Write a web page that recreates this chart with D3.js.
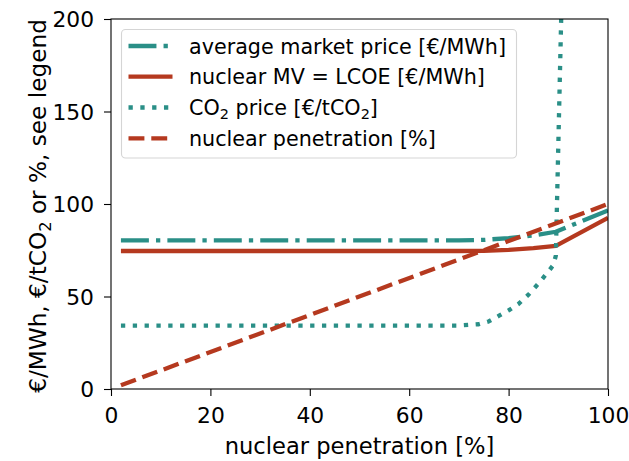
<!DOCTYPE html>
<html><head><meta charset="utf-8">
<script src="https://cdn.jsdelivr.net/npm/d3@7"></script>
<style>body{margin:0;background:#fff}svg text{font-family:"DejaVu Sans",sans-serif;fill:#000}</style>
</head><body>
<svg id="c" width="629" height="461"></svg>
<script>
// ---- data ----
const xTicks = [0, 20, 40, 60, 80, 100];
const yTicks = [0, 50, 100, 150, 200];

const marketX = [2, 10, 20, 30, 40, 50, 60, 70, 75, 80, 85, 89.5, 100];
const marketY = [80.3, 80.3, 80.3, 80.3, 80.3, 80.3, 80.3, 80.3, 80.6, 81.6, 83, 85, 96.5];

const nuclearX = [2, 10, 20, 30, 40, 50, 60, 70, 75, 80, 85, 89.5, 100];
const nuclearY = [74.6, 74.6, 74.6, 74.6, 74.6, 74.6, 74.6, 74.6, 74.7, 75.2, 76.1, 77.4, 92.5];

const co2X = [2, 10, 20, 30, 40, 50, 60, 70, 74, 76, 78, 80, 82, 84, 86, 88, 89, 89.5, 91];
const co2Y = [34.3, 34.3, 34.3, 34.3, 34.3, 34.3, 34.3, 34.3, 35, 36.5, 39.5, 42.5, 46, 51, 57, 63.5, 67, 72, 250];

const penX = [2, 100];
const penY = [2, 100];

const legendLabels = ["average market price [€/MWh]", "nuclear MV = LCOE [€/MWh]", "CO2 price [€/tCO2]", "nuclear penetration [%]"];

// ---- layout ----
const teal = "#2a8f87", red = "#b5391f";
const lw = 4.3;
const svg = d3.select("#c");
const L = 111, R = 608, T = 19, B = 389;
const x = d3.scaleLinear().domain([0, 100]).range([L, R]);
const y = d3.scaleLinear().domain([0, 200]).range([B, T]);

svg.append("clipPath").attr("id", "clip").append("rect")
  .attr("x", L).attr("y", T).attr("width", R - L).attr("height", B - T);

const styles = [
  {color: teal, dash: `${6.5*lw},${1.65*lw},${1*lw},${1.65*lw}`, xs: marketX, ys: marketY},
  {color: red, dash: null, xs: nuclearX, ys: nuclearY},
  {color: teal, dash: `${1*lw},${1.75*lw}`, xs: co2X, ys: co2Y},
  {color: red, dash: `${3.7*lw},${1.6*lw}`, xs: penX, ys: penY}
];

const line = d3.line().x(d => x(d[0])).y(d => y(d[1]));
const g = svg.append("g").attr("clip-path", "url(#clip)");
styles.forEach(s => {
  g.append("path").datum(s.xs.map((v, i) => [v, s.ys[i]]))
    .attr("d", line).attr("fill", "none").attr("stroke", s.color)
    .attr("stroke-width", lw).attr("stroke-dasharray", s.dash)
    .attr("stroke-linejoin", "round");
});

// axes
const tfs = 21.8, lfs = 22.6, gfs = 20.7;
const xa = svg.append("g").attr("transform", `translate(0,${B})`)
  .call(d3.axisBottom(x).tickValues(xTicks).tickSize(7).tickPadding(4).tickFormat(d3.format("d")));
const ya = svg.append("g").attr("transform", `translate(${L},0)`)
  .call(d3.axisLeft(y).tickValues(yTicks).tickSize(7).tickPadding(10).tickFormat(d3.format("d")));
[xa, ya].forEach(a => {
  a.select(".domain").remove();
  a.selectAll("line").attr("stroke", "#000").attr("stroke-width", 1.1);
  a.selectAll("text").style("font-size", tfs + "px").attr("fill", "#000");
});
xa.selectAll("text").attr("y", 34).attr("dy", 0);
ya.selectAll("text").attr("dy", "0.36em");

// frame
svg.append("rect").attr("x", L).attr("y", T).attr("width", R - L).attr("height", B - T)
  .attr("fill", "none").attr("stroke", "#000").attr("stroke-width", 1.1);

// axis labels
svg.append("text").attr("x", (L + R) / 2).attr("y", 454).attr("text-anchor", "middle")
  .style("font-size", lfs + "px").text("nuclear penetration [%]");
const ylfs = 23.2;
const yl = svg.append("text").attr("transform", `translate(46,206) rotate(-90)`)
  .attr("text-anchor", "middle").style("font-size", ylfs + "px");
yl.append("tspan").text("€/MWh, €/tCO");
yl.append("tspan").attr("dy", 4.5).style("font-size", (ylfs * 0.7) + "px").text("2");
yl.append("tspan").attr("dy", -4.5).text(" or %, see legend");

// legend
const lg = svg.append("g");
lg.append("rect").attr("x", 121.5).attr("y", 29.5).attr("width", 395).attr("height", 128.5)
  .attr("rx", 4).attr("fill", "#fff").attr("fill-opacity", 0.8).attr("stroke", "#d5d5d5").attr("stroke-width", 1.1);
const rowY = [46, 76.7, 107.5, 138.3];
styles.forEach((s, i) => {
  lg.append("line").attr("x1", 128.5).attr("x2", 172.5).attr("y1", rowY[i]).attr("y2", rowY[i])
    .attr("stroke", s.color).attr("stroke-width", lw).attr("stroke-dasharray", s.dash);
  const t = lg.append("text").attr("x", 189).attr("y", rowY[i] + 7.5).style("font-size", gfs + "px");
  if (i === 2) {
    t.append("tspan").text("CO");
    t.append("tspan").attr("dy", 4).style("font-size", (gfs * 0.7) + "px").text("2");
    t.append("tspan").attr("dy", -4).text(" price [€/tCO");
    t.append("tspan").attr("dy", 4).style("font-size", (gfs * 0.7) + "px").text("2");
    t.append("tspan").attr("dy", -4).text("]");
  } else {
    t.text(legendLabels[i]);
  }
});
</script>
</body></html>
